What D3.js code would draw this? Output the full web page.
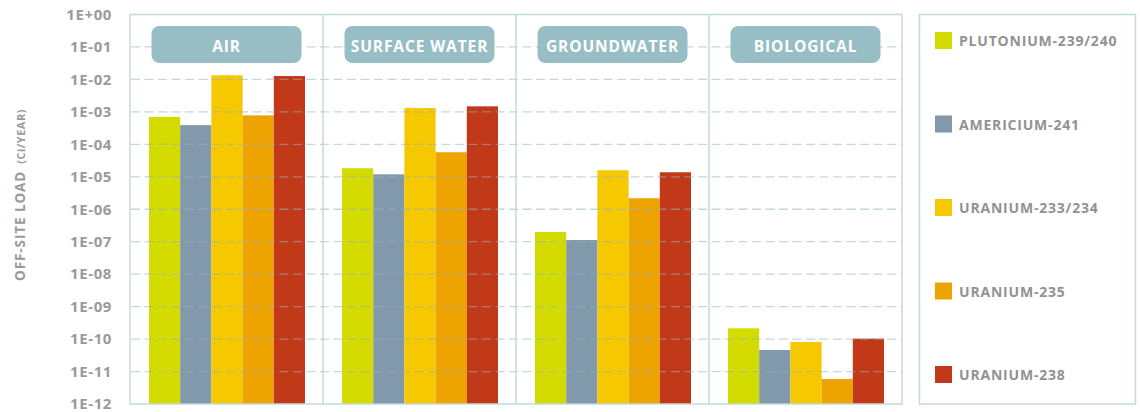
<!DOCTYPE html>
<html><head><meta charset="utf-8">
<script src="https://cdn.jsdelivr.net/npm/d3@7"></script>
<style>body{margin:0;background:#fff}svg{display:block}</style>
</head><body><svg id="c" width="1140" height="412"></svg>
<script>
const categories = ["AIR", "SURFACE WATER", "GROUNDWATER", "BIOLOGICAL"];
const seriesNames = ["PLUTONIUM-239/240", "AMERICIUM-241", "URANIUM-233/234", "URANIUM-235", "URANIUM-238"];
const seriesColors = ["#d4db00", "#8298ab", "#f5c800", "#eea400", "#c13918"];
const plutonium = [7.0e-4, 1.83e-5, 2.0e-7, 2.15e-10];
const americium = [3.9e-4, 1.19e-5, 1.13e-7, 4.6e-11];
const uranium234 = [1.34e-2, 1.32e-3, 1.59e-5, 8.1e-11];
const uranium235 = [7.8e-4, 5.7e-5, 2.18e-6, 5.9e-12];
const uranium238 = [1.27e-2, 1.48e-3, 1.38e-5, 1.03e-10];
const tickValues = [1e0, 1e-1, 1e-2, 1e-3, 1e-4, 1e-5, 1e-6, 1e-7, 1e-8, 1e-9, 1e-10, 1e-11, 1e-12];
const tickLabels = ["1E+00", "1E-01", "1E-02", "1E-03", "1E-04", "1E-05", "1E-06", "1E-07", "1E-08", "1E-09", "1E-10", "1E-11", "1E-12"];
const yTitle = "OFF-SITE LOAD";
const yUnit = "(Ci/YEAR)";

const seriesValues = [plutonium, americium, uranium234, uranium235, uranium238];

const svg = d3.select("#c");
const font = "'Open Sans', 'Noto Sans', sans-serif";
const pL = 130, pR = 902, pT = 14.5, pB = 404;
const gridColor = "#c3d9de";

const y = d3.scaleLog().domain([1e-12, 1]).range([pB, pT]);
const x0 = d3.scaleBand().domain(categories).range([pL, pR]);
const x1 = d3.scaleBand().domain(seriesNames).range([19, x0.bandwidth() - 18]);

// bars
const rows = [];
categories.forEach((c, ci) => seriesNames.forEach((s, si) => rows.push({c, s, si, v: seriesValues[si][ci]})));
svg.append("g").selectAll("rect").data(rows).join("rect")
  .attr("x", d => x0(d.c) + x1(d.s))
  .attr("width", x1.bandwidth())
  .attr("y", d => y(d.v))
  .attr("height", d => y(1e-12) - y(d.v))
  .attr("fill", d => seriesColors[d.si]);

// gridlines on top
svg.append("g").selectAll("line").data(tickValues.slice(1, -1)).join("line")
  .attr("x1", pL + 1).attr("x2", pR)
  .attr("y1", d => y(d)).attr("y2", d => y(d))
  .attr("stroke", "#93b6bd").attr("stroke-opacity", 0.55)
  .attr("stroke-width", 1.3).attr("stroke-dasharray", "9,4.5");

// panel frame and dividers
svg.append("rect").attr("x", pL).attr("y", pT).attr("width", pR - pL).attr("height", pB - pT)
  .attr("fill", "none").attr("stroke", gridColor).attr("stroke-width", 1.5);
svg.append("g").selectAll("line").data(categories.slice(1)).join("line")
  .attr("x1", d => x0(d)).attr("x2", d => x0(d)).attr("y1", pT).attr("y2", pB)
  .attr("stroke", gridColor).attr("stroke-width", 1.5);

// headers
const hdr = svg.append("g").selectAll("g").data(categories).join("g")
  .attr("transform", d => `translate(${x0(d) + x0.bandwidth() / 2},0)`);
hdr.append("rect").attr("x", -75).attr("y", 26).attr("width", 150).attr("height", 37).attr("rx", 8)
  .attr("fill", "#97bec4");
hdr.append("text").attr("y", 45.5).attr("text-anchor", "middle").attr("dominant-baseline", "central")
  .attr("fill", "#fff").style("font-family", font).style("font-weight", 700).style("font-size", "15.5px")
  .style("letter-spacing", "0.9px").text(d => d);

// y axis
const ax = svg.append("g").attr("transform", `translate(${pL},0)`)
  .call(d3.axisLeft(y).tickValues(tickValues).tickFormat((d, i) => tickLabels[i]).tickSize(0).tickPadding(18));
ax.select(".domain").remove();
ax.selectAll("text").attr("fill", "#9a9a9a").style("font-family", font).style("font-weight", 700)
  .style("font-size", "15px").style("letter-spacing", "0.6px");

// y title
const yt = svg.append("text").attr("transform", "translate(25,195) rotate(-90)").attr("text-anchor", "middle")
  .attr("fill", "#9a9a9a").style("font-family", font).style("font-weight", 700);
yt.append("tspan").style("font-size", "13.5px").style("letter-spacing", "0.9px").text(yTitle);
yt.append("tspan").attr("dx", 7).style("font-size", "11px").style("letter-spacing", "0.5px").text(yUnit);

// legend
svg.append("rect").attr("x", 919.5).attr("y", pT).attr("width", 216).attr("height", pB - pT)
  .attr("fill", "none").attr("stroke", gridColor).attr("stroke-width", 1.5);
const ly = d3.scalePoint().domain(seriesNames).range([40.5, 374.5]);
const lg = svg.append("g").selectAll("g").data(seriesNames).join("g")
  .attr("transform", d => `translate(935,${ly(d)})`);
lg.append("rect").attr("x", 0).attr("y", -8.5).attr("width", 17).attr("height", 17)
  .attr("fill", (d, i) => seriesColors[i]);
lg.append("text").attr("x", 24).attr("dominant-baseline", "central").attr("fill", "#929292")
  .style("font-family", font).style("font-weight", 700).style("font-size", "14px").style("letter-spacing", "0.8px")
  .text(d => d);
</script></body></html>
